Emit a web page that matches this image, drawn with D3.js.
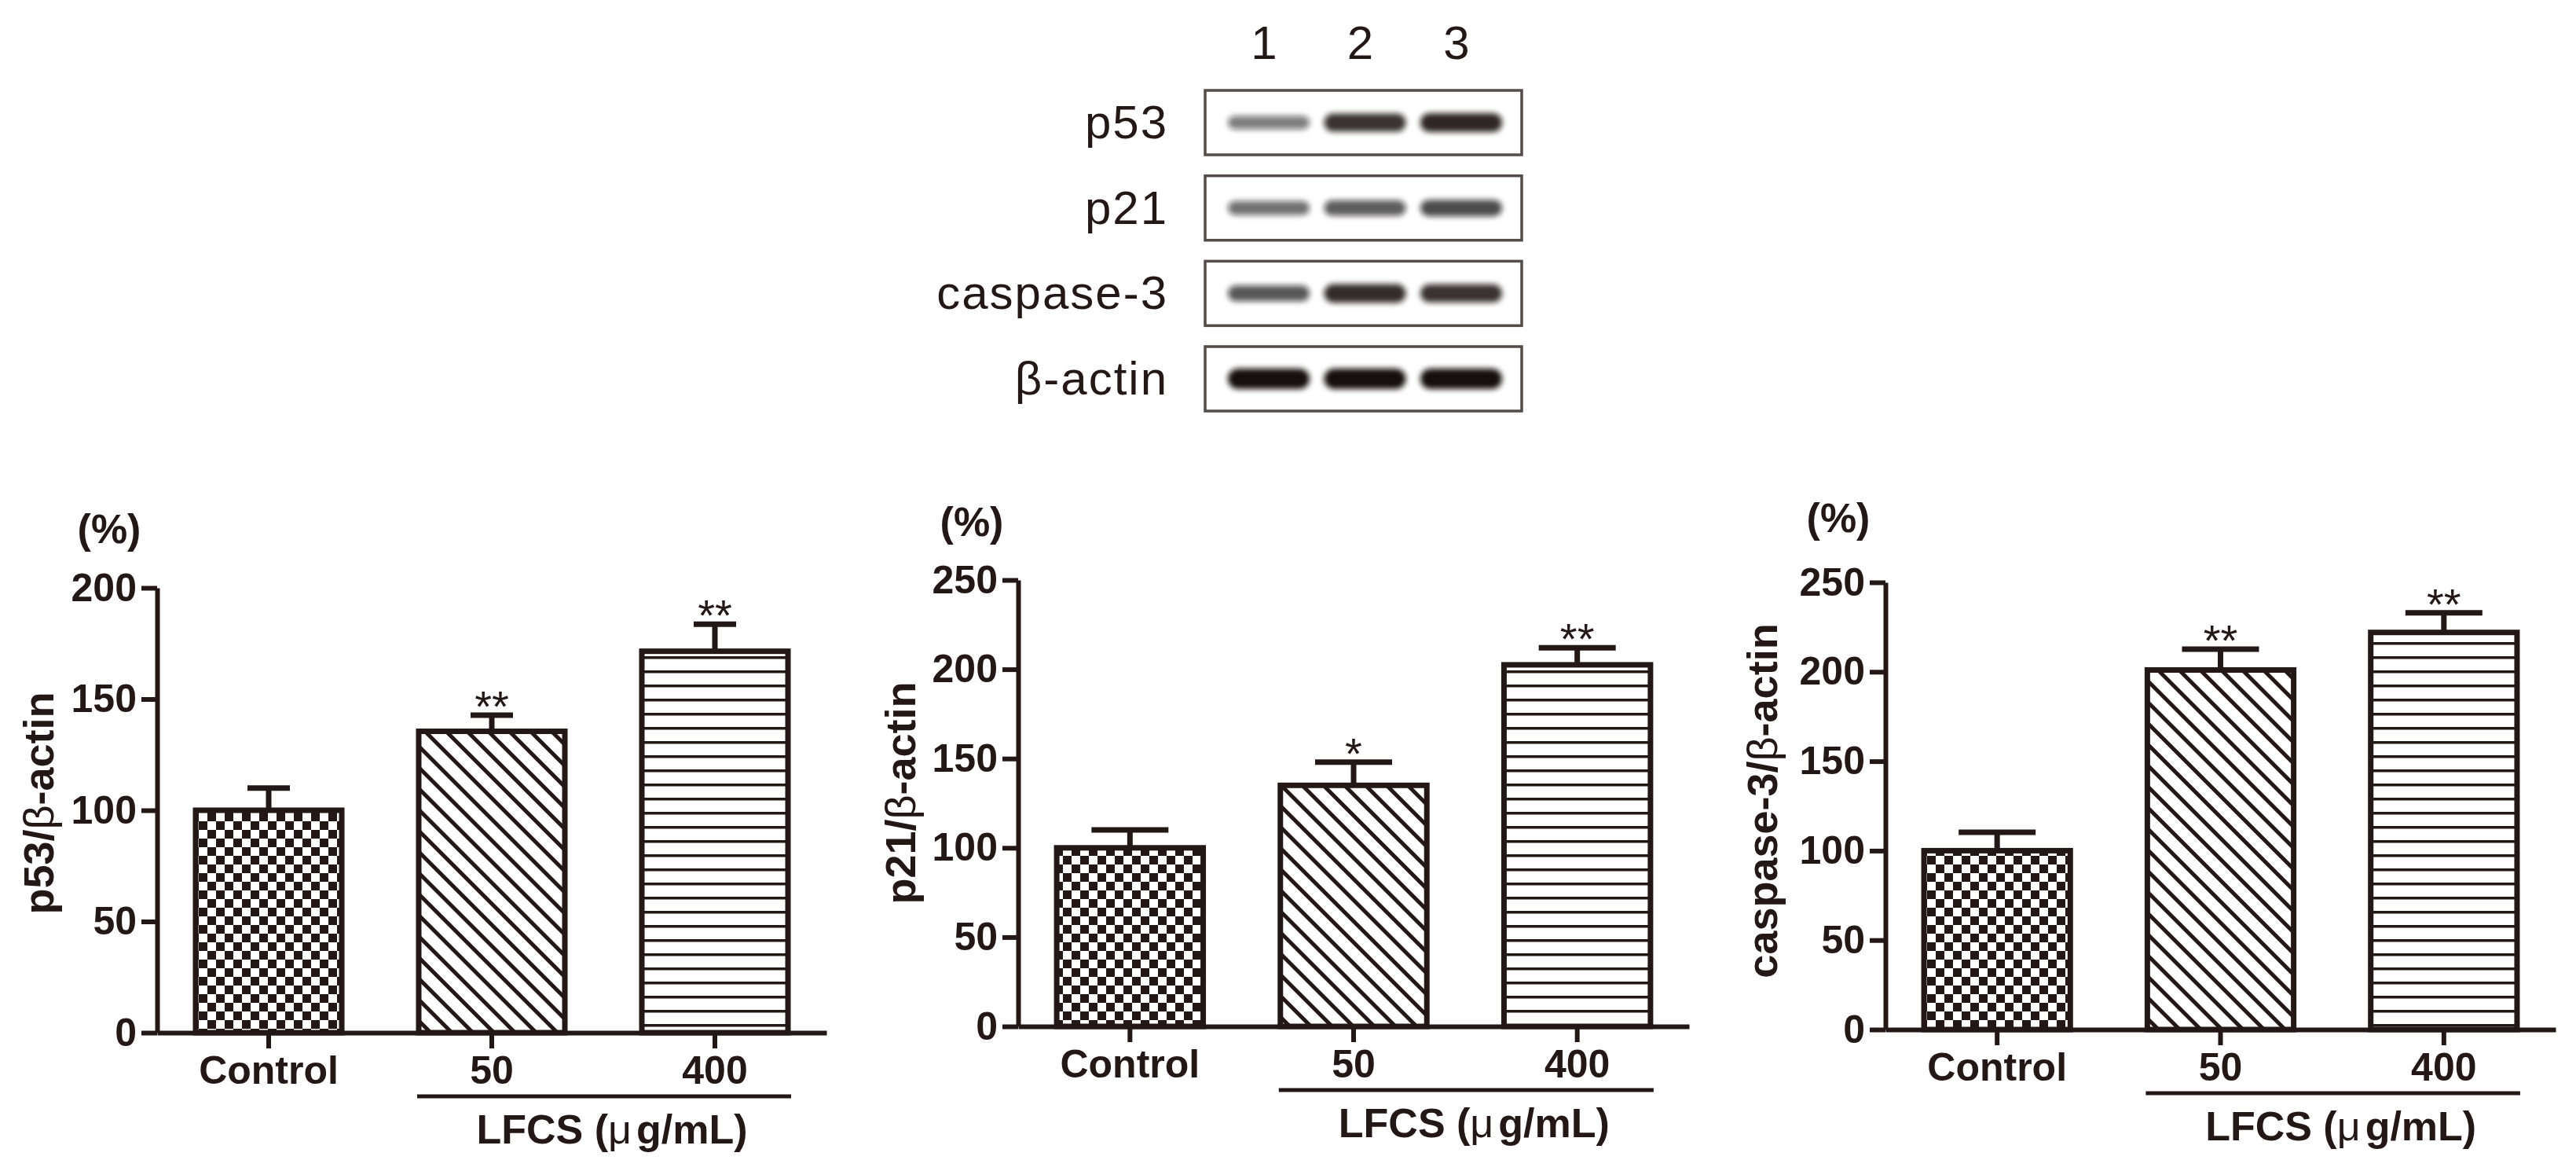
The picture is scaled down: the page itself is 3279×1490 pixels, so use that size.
<!DOCTYPE html>
<html lang="en">
  <head>
    <meta charset="utf-8">
    <title>p53 p21 caspase-3</title>
    <script src="https://cdn.jsdelivr.net/npm/d3@7"></script>
    <style>
    body{margin:0;background:#fff;}
    .axis line,
    .axis path{
      stroke:#231815;
      stroke-width:6px;
    }
    .axis text{
      font-family:"Liberation Sans",Arial,sans-serif;
      font-weight:bold;
      font-size:50px;
      fill:#231815;
    }
    .lbl{
      font-family:"Liberation Sans",Arial,sans-serif;
      fill:#231815;
    }
    </style>
  </head>
  <body>
    <svg></svg>
    <script>
      // groups and measured values (% of control)
      var groups=["Control","50","400"];
      var p53Means=[100,135.5,171.5];
      var p53Errors=[10,7.3,12.2];
      var p53Stars=["","**","**"];
      var p21Means=[100,135,202.5];
      var p21Errors=[10,13,9.5];
      var p21Stars=["","*","**"];
      var caspMeans=[100,201,222];
      var caspErrors=[10.3,11.7,11];
      var caspStars=["","**","**"];
      var p53Ticks=[0,50,100,150,200];
      var otherTicks=[0,50,100,150,200,250];

      // western blot
      var lanes=["1","2","3"];
      var proteins=["p53","p21","caspase-3","β-actin"];
      var p53Bands=[0.55,0.85,0.9];
      var p21Bands=[0.6,0.68,0.75];
      var caspBands=[0.7,0.88,0.85];
      var actinBands=[1,1,1];

      var width=3279, height=1490;
      var ink="#231815";
      var svg=d3.select("svg").attr("width",width).attr("height",height);
      var defs=svg.append("defs");

      // fills
      var chk=defs.append("pattern").attr("id","checker")
        .attr("patternUnits","userSpaceOnUse").attr("width",22).attr("height",22);
      chk.append("rect").attr("width",22).attr("height",22).attr("fill","#fff");
      chk.append("rect").attr("width",11).attr("height",11).attr("fill",ink);
      chk.append("rect").attr("x",11).attr("y",11).attr("width",11).attr("height",11).attr("fill",ink);

      var diag=defs.append("pattern").attr("id","diag")
        .attr("patternUnits","userSpaceOnUse").attr("width",19).attr("height",19)
        .attr("patternTransform","rotate(45)");
      diag.append("rect").attr("width",19).attr("height",19).attr("fill","#fff");
      diag.append("rect").attr("y",7).attr("width",19).attr("height",5).attr("fill",ink);

      var horiz=defs.append("pattern").attr("id","horiz")
        .attr("patternUnits","userSpaceOnUse").attr("width",18).attr("height",18);
      horiz.append("rect").attr("width",18).attr("height",18).attr("fill","#fff");
      horiz.append("rect").attr("y",7).attr("width",18).attr("height",3.5).attr("fill",ink);

      var fills=["url(#checker)","url(#diag)","url(#horiz)"];

      defs.append("filter").attr("id","blur").attr("x","-20%").attr("y","-60%")
        .attr("width","140%").attr("height","220%")
        .append("feGaussianBlur").attr("stdDeviation",3.5);

      var panels=[
        {means:p53Means,errors:p53Errors,stars:p53Stars,ticks:p53Ticks,max:200,
         x0:200,x1:1052,y0:1314,y1:748,cap:54,title:"p53",pctX:139,pctY:691,titleX:49,titleY:1022},
        {means:p21Means,errors:p21Errors,stars:p21Stars,ticks:otherTicks,max:250,
         x0:1296,x1:2150,y0:1306,y1:738,cap:98,title:"p21",pctX:1237,pctY:682,titleX:1146,titleY:1009},
        {means:caspMeans,errors:caspErrors,stars:caspStars,ticks:otherTicks,max:250,
         x0:2400,x1:3253,y0:1310,y1:741,cap:98,title:"caspase-3",pctX:2340,pctY:677,titleX:2243,titleY:1019}
      ];

      panels.forEach(function(p){
        var xscale=d3.scaleBand().domain(groups).range([p.x0,p.x1])
                     .paddingInner(0.345).paddingOuter(0.1725);
        var yscale=d3.scaleLinear().domain([0,p.max]).range([p.y0,p.y1]);
        var g=svg.append("g");
        var rows=groups.map(function(d,i){
          return {group:d,mean:p.means[i],err:p.errors[i],star:p.stars[i],fill:fills[i]};
        });

        // error bars (upper only)
        g.selectAll("line.stem").data(rows).enter().append("line")
         .attr("x1",function(d){return xscale(d.group)+xscale.bandwidth()/2;})
         .attr("x2",function(d){return xscale(d.group)+xscale.bandwidth()/2;})
         .attr("y1",function(d){return yscale(d.mean);})
         .attr("y2",function(d){return yscale(d.mean+d.err);})
         .attr("stroke",ink).attr("stroke-width",7);
        g.selectAll("line.cap").data(rows).enter().append("line")
         .attr("x1",function(d){return xscale(d.group)+xscale.bandwidth()/2-p.cap/2;})
         .attr("x2",function(d){return xscale(d.group)+xscale.bandwidth()/2+p.cap/2;})
         .attr("y1",function(d){return yscale(d.mean+d.err);})
         .attr("y2",function(d){return yscale(d.mean+d.err);})
         .attr("stroke",ink).attr("stroke-width",7);

        g.selectAll("rect").data(rows).enter().append("rect")
         .attr("x",function(d){return xscale(d.group);})
         .attr("y",function(d){return yscale(d.mean);})
         .attr("width",xscale.bandwidth())
         .attr("height",function(d){return yscale(0)-yscale(d.mean);})
         .attr("fill",function(d){return d.fill;})
         .attr("stroke",ink).attr("stroke-width",7);

        g.selectAll("text.star").data(rows).enter().append("text")
         .attr("class","lbl")
         .attr("x",function(d){return xscale(d.group)+xscale.bandwidth()/2;})
         .attr("y",function(d){return yscale(d.mean+d.err)+8;})
         .attr("text-anchor","middle").attr("font-size",56)
         .text(function(d){return d.star;});

        var xAxis=d3.axisBottom(xscale).tickSize(20).tickSizeOuter(0).tickPadding(9);
        var yAxis=d3.axisLeft(yscale).tickValues(p.ticks).tickSize(20).tickSizeOuter(0)
                    .tickPadding(6).tickFormat(d3.format("d"));
        svg.append("g").attr("class","axis")
           .attr("transform","translate(0,"+p.y0+")").call(xAxis);
        svg.append("g").attr("class","axis")
           .attr("transform","translate("+p.x0+",0)").call(yAxis);

        // treatment bracket
        var bx0=xscale("50")-2, bx1=xscale("400")+xscale.bandwidth()+4;
        svg.append("line").attr("x1",bx0).attr("x2",bx1)
           .attr("y1",p.y0+81).attr("y2",p.y0+81)
           .attr("stroke",ink).attr("stroke-width",5);
        var lf=svg.append("text").attr("class","lbl")
           .attr("x",(bx0+bx1)/2+10).attr("y",p.y0+141)
           .attr("text-anchor","middle").attr("font-size",52).attr("font-weight","bold");
        lf.append("tspan").text("LFCS (");
        lf.append("tspan").attr("font-weight","normal").text("μ");
        lf.append("tspan").attr("dx",6).text("g/mL)");

        svg.append("text").attr("class","lbl")
           .attr("x",p.pctX).attr("y",p.pctY)
           .attr("text-anchor","middle").attr("font-size",52).attr("font-weight","bold")
           .text("(%)");

        var tt=svg.append("text").attr("class","lbl")
           .attr("transform","translate("+(p.titleX+19)+","+p.titleY+") rotate(-90)")
           .attr("text-anchor","middle").attr("font-size",54).attr("font-weight","bold");
        tt.append("tspan").text(p.title+"/");
        tt.append("tspan").attr("font-weight","normal").text("β");
        tt.append("tspan").text("-actin");
      });

      // blot panel
      var laneX=d3.scalePoint().domain(lanes).range([1615,1860]);
      var rowY=d3.scalePoint().domain(proteins).range([156,482]);
      var bandH=d3.scaleLinear().domain([0.5,1]).range([16,26]);
      var blots=[p53Bands,p21Bands,caspBands,actinBands];

      svg.selectAll("text.lane").data(lanes).enter().append("text")
         .attr("class","lbl").attr("x",function(d){return laneX(d)-6;})
         .attr("y",75).attr("text-anchor","middle").attr("font-size",60)
         .text(function(d){return d;});

      proteins.forEach(function(name,r){
        var cy=rowY(name);
        svg.append("text").attr("class","lbl")
           .attr("x",1487).attr("y",cy+20)
           .attr("text-anchor","end").attr("font-size",60).attr("letter-spacing",2)
           .text(name);
        svg.append("rect").attr("x",1534).attr("y",cy-41)
           .attr("width",403).attr("height",82)
           .attr("fill","#fff").attr("stroke","#544c48").attr("stroke-width",3.5);
        var bg=svg.append("g").attr("filter","url(#blur)");
        bg.selectAll("rect").data(blots[r]).enter().append("rect")
          .attr("x",function(d,i){return laneX(lanes[i])-52;})
          .attr("y",function(d){return cy-bandH(d)/2;})
          .attr("width",104)
          .attr("height",function(d){return bandH(d);})
          .attr("rx",function(d){return bandH(d)/2;})
          .attr("fill","#141010")
          .attr("fill-opacity",function(d){return d;});
      });
    </script>
  </body>
</html>
